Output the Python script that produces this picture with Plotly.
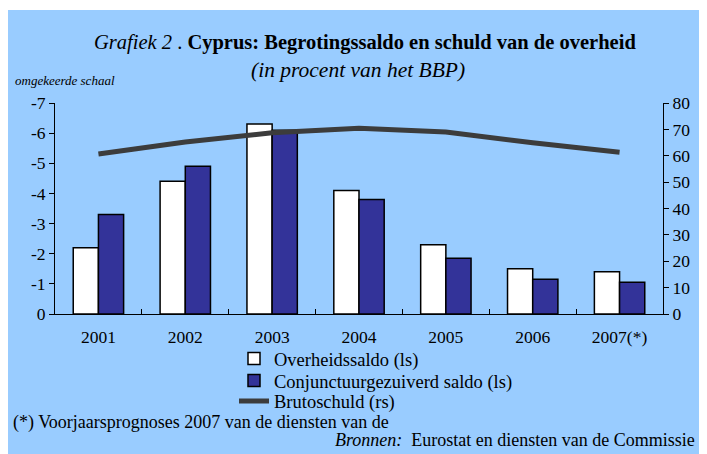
import plotly.graph_objects as go

years = ["2001", "2002", "2003", "2004", "2005", "2006", "2007(*)"]
overheidssaldo = [-2.2, -4.4, -6.3, -4.1, -2.3, -1.5, -1.4]
conjunctuur = [-3.3, -4.9, -6.1, -3.8, -1.85, -1.15, -1.05]
brutoschuld = [60.7, 65.2, 68.7, 70.4, 69.0, 64.9, 61.3]
left_ticks = [0, -1, -2, -3, -4, -5, -6, -7]
right_ticks = [0, 10, 20, 30, 40, 50, 60, 70, 80]

# page body has an 8px margin; figure coordinates = screen - 8
W, H = 699, 446
L, R, T, B = 47, 655, 95, 306
FONT = "Liberation Serif"

def px(x):
    return (x - L) / (R - L)

def py(y):
    return (B - y) / (B - T)

fig = go.Figure()
fig.add_trace(go.Bar(x=years, y=overheidssaldo, name="Overheidssaldo (ls)",
                     marker=dict(color="white", line=dict(color="black", width=1.5)),
                     yaxis="y", legend="legend"))
fig.add_trace(go.Bar(x=years, y=conjunctuur, name="Conjunctuurgezuiverd saldo (ls)",
                     marker=dict(color="#333399", line=dict(color="black", width=1.5)),
                     yaxis="y", legend="legend2"))
fig.add_trace(go.Scatter(x=years, y=brutoschuld, name="Brutoschuld (rs)", mode="lines",
                         line=dict(color="#3c3c3c", width=5), yaxis="y2", legend="legend3"))

def leg(yc):
    return dict(x=px(226), y=py(yc), xanchor="left", yanchor="middle",
                bgcolor="rgba(0,0,0,0)", font=dict(size=18.5, family=FONT, color="black"),
                itemwidth=30)

fig.update_layout(
    width=W, height=H,
    margin=dict(l=L, r=W - R, t=T, b=H - B, pad=0),
    paper_bgcolor="#99CCFF",
    plot_bgcolor="rgba(0,0,0,0)",
    font=dict(family=FONT, size=17.5, color="black"),
    barmode="group", bargap=0.42, bargroupgap=0,
    showlegend=True,
    legend=leg(351), legend2=leg(373), legend3=leg(393.5),
    xaxis=dict(type="category", showline=True, linecolor="black", linewidth=1,
               ticks="inside", ticklen=5, tickcolor="black", tickson="boundaries",
               showgrid=False, zeroline=False, ticklabelstandoff=7,
               tickfont=dict(size=17.5, family=FONT)),
    yaxis=dict(range=[0, -7], tickvals=left_ticks, ticktext=[str(v) for v in left_ticks],
               showline=True, linecolor="black", linewidth=1, ticks="outside",
               ticklen=5, tickcolor="black", showgrid=False, zeroline=False,
               tickfont=dict(size=17.5, family=FONT)),
    yaxis2=dict(range=[0, 80], tickvals=right_ticks, overlaying="y", side="right",
                anchor="x", showline=True, linecolor="black", linewidth=1,
                ticks="outside", ticklen=5, tickcolor="black", showgrid=False,
                zeroline=False, tickfont=dict(size=17.5, family=FONT)),
    yaxis3=dict(range=[0, 80], tickvals=right_ticks, overlaying="y", side="right",
                anchor="x", showline=False, ticks="inside", ticklen=5, tickcolor="black",
                showticklabels=False, showgrid=False, zeroline=False),
)

# thin white strip at the very top, as in the reference
fig.add_shape(type="rect", xref="paper", yref="paper",
              x0=px(-10), x1=px(720), y0=py(2), y1=py(-10),
              fillcolor="white", line=dict(width=0), layer="below")

annots = [
    dict(x=px(356.5), y=py(34), text="<i>Grafiek 2</i> . <b>Cyprus: Begrotingssaldo en schuld van de overheid</b>",
         font=dict(size=20.5), xanchor="center", yanchor="middle"),
    dict(x=px(349.5), y=py(62), text="<i>(in procent van het BBP)</i>",
         font=dict(size=21.5), xanchor="center", yanchor="middle"),
    dict(x=px(5), y=py(72), text="<i>omgekeerde schaal</i>",
         font=dict(size=13), xanchor="left", yanchor="middle"),
    dict(x=px(3), y=py(414), text="(*) Voorjaarsprognoses 2007 van de diensten van de",
         font=dict(size=18), xanchor="left", yanchor="middle"),
    dict(x=px(689), y=py(432), text="<i>Bronnen:</i>  Eurostat en diensten van de Commissie",
         font=dict(size=18), xanchor="right", yanchor="middle"),
]
for a in annots:
    a.update(xref="paper", yref="paper", showarrow=False)
    a["font"]["family"] = FONT
    a["font"]["color"] = "black"
    fig.add_annotation(**a)

fig.write_html("out.html")
